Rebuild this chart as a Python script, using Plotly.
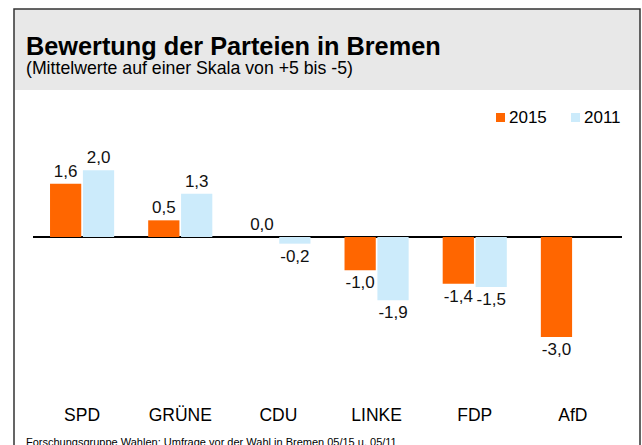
import plotly.graph_objects as go

categories = ["SPD", "GRÜNE", "CDU", "LINKE", "FDP", "AfD"]
values_2015 = [1.6, 0.5, 0.0, -1.0, -1.4, -3.0]
values_2011 = [2.0, 1.3, -0.2, -1.9, -1.5, None]
series_names = ["2015", "2011"]

W, H = 642, 445
OFF = 0  # page body margin removed via post_script
L, R, T, B = 33, 20, 120, 50
pw, ph = W - L - R, H - T - B

def px(x):
    return (x - OFF - L) / pw

def py(y):
    return (H - B - (y - OFF)) / ph

FONT = "Liberation Sans, Arial, Helvetica, sans-serif"
ORANGE = "#FF6600"
BLUE = "#CCEBFB"

def labels(vals):
    return ["" if v is None else f"{v:.1f}".replace(".", ",") for v in vals]

fig = go.Figure()
fig.add_trace(go.Bar(
    x=categories, y=values_2015, name=series_names[0],
    marker=dict(color=ORANGE, line=dict(width=0)),
    text=labels(values_2015), textposition="outside",
    textfont=dict(size=17, color="#111"), cliponaxis=False, showlegend=False,
))
fig.add_trace(go.Bar(
    x=categories, y=values_2011, name=series_names[1],
    marker=dict(color=BLUE, line=dict(width=0)),
    text=labels(values_2011), textposition="outside",
    textfont=dict(size=17, color="#111"), cliponaxis=False, showlegend=False,
))

shapes = [
    dict(type="rect", xref="paper", yref="paper",
         x0=px(14), x1=px(640), y0=py(90), y1=py(9),
         fillcolor="#E8E8E8", line=dict(width=0), layer="below"),
    dict(type="rect", xref="paper", yref="paper",
         x0=px(14), x1=px(640), y0=py(470), y1=py(9),
         fillcolor="rgba(0,0,0,0)", line=dict(color="#333333", width=1.5)),
    dict(type="rect", xref="paper", yref="paper",
         x0=px(496), x1=px(505), y0=py(122), y1=py(113),
         fillcolor=ORANGE, line=dict(width=0)),
    dict(type="rect", xref="paper", yref="paper",
         x0=px(571), x1=px(580), y0=py(122), y1=py(113),
         fillcolor=BLUE, line=dict(width=0)),
]

annotations = [
    dict(text="<b>Bewertung der Parteien in Bremen</b>", xref="paper", yref="paper",
         x=px(24), y=py(46), xanchor="left", yanchor="middle", showarrow=False,
         font=dict(size=25.3, color="#000", family=FONT)),
    dict(text="(Mittelwerte auf einer Skala von +5 bis -5)", xref="paper", yref="paper",
         x=px(24), y=py(68), xanchor="left", yanchor="middle", showarrow=False,
         font=dict(size=17.7, color="#000", family=FONT)),
    dict(text="Forschungsgruppe Wahlen: Umfrage vor der Wahl in Bremen 05/15 u. 05/11",
         xref="paper", yref="paper",
         x=px(24), y=py(442), xanchor="left", yanchor="middle", showarrow=False,
         font=dict(size=11, color="#000", family=FONT)),
    dict(text=series_names[0], xref="paper", yref="paper",
         x=px(507), y=py(118), xanchor="left", yanchor="middle", showarrow=False,
         font=dict(size=17, color="#000", family=FONT)),
    dict(text=series_names[1], xref="paper", yref="paper",
         x=px(582), y=py(118), xanchor="left", yanchor="middle", showarrow=False,
         font=dict(size=17, color="#000", family=FONT)),
]

fig.update_layout(
    width=W, height=H,
    margin=dict(l=L, r=R, t=T, b=B),
    paper_bgcolor="white", plot_bgcolor="white",
    font=dict(family=FONT, size=17, color="#000"),
    barmode="group", bargap=0.33, bargroupgap=0.05,
    showlegend=False,
    shapes=shapes, annotations=annotations,
    xaxis=dict(showgrid=False, showline=False, ticks="", tickfont=dict(size=17.5),
               ticklabelstandoff=7, range=[-0.5, 5.5]),
    yaxis=dict(range=[-4.74, 3.51], showgrid=False, showticklabels=False,
               zeroline=True, zerolinecolor="#000", zerolinewidth=1.5, ticks=""),
)

fig.write_html(
    "out.html",
    config={"displayModeBar": False},
    post_script="document.body.style.margin='0px';document.body.style.overflow='hidden';",
)
